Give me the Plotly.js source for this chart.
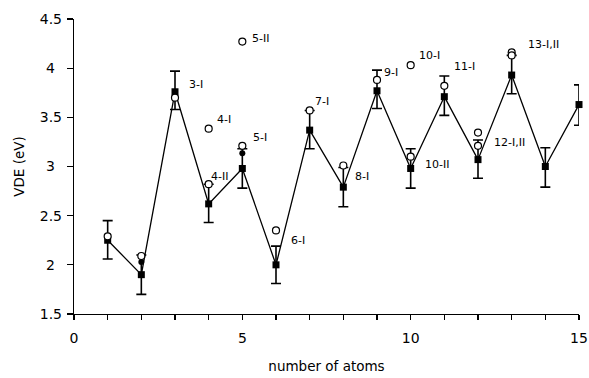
<!DOCTYPE html>
<html><head><meta charset="utf-8">
<script src="https://cdn.plot.ly/plotly-3.0.1.min.js"></script>
<style>html,body{margin:0;padding:0;background:#fff}#c{width:589px;height:378px}</style>
</head><body><div id="c"></div>
<script>
// filled squares with error bars (line series)
const atoms = [1,2,3,4,5,6,7,8,9,10,11,12,13,14,15];
const vdeSq = [2.25,1.90,3.76,2.62,2.98,2.00,3.37,2.79,3.77,2.98,3.71,3.07,3.93,3.00,3.63];
const errUp = [0.20,0.20,0.21,0.20,0.20,0.19,0.20,0.20,0.21,0.20,0.21,0.20,0.20,0.19,0.20];
const errDn = [0.19,0.20,0.18,0.19,0.20,0.19,0.19,0.20,0.18,0.20,0.19,0.19,0.19,0.21,0.21];
// open circles
const circX = [1,2,3,4,4,5,5,6,7,8,9,10,10,11,12,12,13,13];
const circY = [2.29,2.09,3.70,3.385,2.82,3.21,4.27,2.35,3.57,3.01,3.88,4.03,3.10,3.82,3.345,3.21,4.16,4.13];
// small filled dots
const dotX = [2,5];
const dotY = [2.03,3.135];
// isomer labels
const labText = ["3-I","4-I","4-II","5-II","5-I","6-I","7-I","8-I","9-I","10-I","10-II","11-I","12-I,II","13-I,II"];
const labX = [3.35,4.19,4.02,5.23,5.25,6.40,7.09,8.30,9.14,10.18,10.36,11.22,12.41,13.43];
const labY = [3.83,3.48,2.90,4.30,3.30,2.245,3.66,2.90,3.955,4.13,3.016,4.016,3.243,4.24];
// tick labels
const yTickVals = [1.5,2,2.5,3,3.5,4,4.5];
const yTickText = ["1.5","2","2.5","3","3.5","4","4.5"];
const xTickVals = [0,5,10,15];
const xTickText = ["0","5","10","15"];

const fam = '"DejaVu Sans", Verdana, sans-serif';
const f = s => ({family:fam, size:s, color:'#000'});
const traces = [
  {x:atoms, y:vdeSq, type:'scatter', mode:'lines+markers',
   line:{color:'#000', width:1.3},
   marker:{symbol:'square', size:7, color:'#000'},
   error_y:{type:'data', symmetric:false, array:errUp, arrayminus:errDn, color:'#000', thickness:1.6, width:5},
   cliponaxis:false},
  {x:dotX, y:dotY, type:'scatter', mode:'markers',
   marker:{symbol:'circle', size:6, color:'#000'}},
  {x:circX, y:circY, type:'scatter', mode:'markers',
   marker:{symbol:'circle', size:7, color:'#fff', line:{color:'#000', width:1.2}}}
];
const annotations = labText.map((t,i)=>({x:labX[i], y:labY[i], text:t, showarrow:false,
  xanchor:'left', yanchor:'middle', font:f(11)}));
const layout = {
  width:589, height:378, margin:{l:74, r:10, t:19, b:64},
  paper_bgcolor:'#fff', plot_bgcolor:'#fff', showlegend:false,
  font:f(14),
  xaxis:{range:[0,15], tickmode:'array', tickvals:xTickVals, ticktext:xTickText,
    ticks:'outside', ticklen:5, tickwidth:1.2, tickcolor:'#000', ticklabelstandoff:6,
    showline:true, linecolor:'#000', linewidth:1.2, showgrid:false, zeroline:false,
    tickfont:f(14),
    minor:{dtick:1, tick0:0, ticks:'outside', ticklen:5, tickwidth:1.2, tickcolor:'#000', showgrid:false},
    title:{text:'number of atoms', font:f(13.5), standoff:16}},
  yaxis:{range:[1.5,4.5], tickmode:'array', tickvals:yTickVals,
    ticktext:yTickText.map(t=>t.indexOf('.')<0 ? t+'\u2002' : t),
    ticks:'outside', ticklen:6, tickwidth:1.2, tickcolor:'#000', ticklabelstandoff:2,
    showline:true, linecolor:'#000', linewidth:1.2, showgrid:false, zeroline:false,
    tickfont:f(14),
    title:{text:'VDE (eV)', font:f(13.5), standoff:12}},
  annotations: annotations
};
Plotly.newPlot('c', traces, layout, {staticPlot:true, displayModeBar:false});
</script></body></html>
